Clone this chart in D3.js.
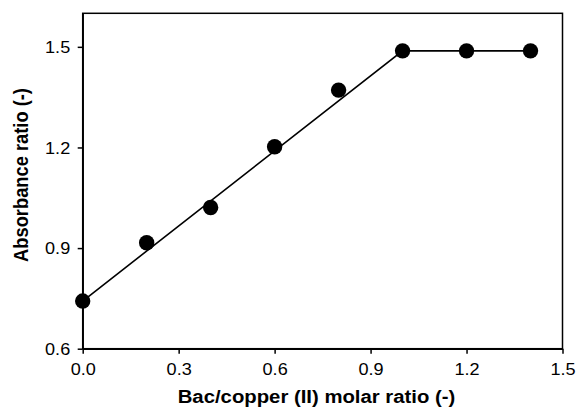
<!DOCTYPE html>
<html><head><meta charset="utf-8">
<script src="https://cdn.jsdelivr.net/npm/d3@7"></script>
<style>body{margin:0;background:#fff}svg{display:block}text{font-family:"Liberation Sans",Arial,sans-serif}</style>
</head><body><div id="chart"></div>
<script>
const xValues = [0.0, 0.2, 0.4, 0.6, 0.8, 1.0, 1.2, 1.4];
const yValues = [0.742, 0.916, 1.021, 1.202, 1.371, 1.488, 1.488, 1.488];
const fitX = [0.0, 1.0, 1.4];
const fitY = [0.742, 1.488, 1.488];
const xTicks = [0.0, 0.3, 0.6, 0.9, 1.2, 1.5];
const yTicks = [0.6, 0.9, 1.2, 1.5];
const xTitle = "Bac/copper (II) molar ratio (-)";
const yTitle = "Absorbance ratio (-)";

const W = 577, H = 409;
const SX = 1.11; // horizontal stretch of glyphs in the reference
const m = {left: 82.7, right: W - 562.5, top: 13.3, bottom: H - 348.7};
const svg = d3.select("#chart").append("svg").attr("width", W).attr("height", H);
const x = d3.scaleLinear().domain([0, 1.5]).range([m.left, W - m.right]);
const y = d3.scaleLinear().domain([0.6, 1.6]).range([H - m.bottom, m.top]);

// frame
svg.append("rect").attr("x", x(0)).attr("y", y(1.6)).attr("width", x(1.5) - x(0)).attr("height", y(0.6) - y(1.6))
  .attr("fill", "none").attr("stroke", "#000").attr("stroke-width", 1.5);

const xAxis = svg.append("g").attr("transform", `translate(0,${y(0.6)})`)
  .call(d3.axisBottom(x).tickValues(xTicks).tickFormat(d3.format(".1f")).tickSize(5).tickSizeOuter(0));
const yAxis = svg.append("g").attr("transform", `translate(${x(0)},0)`)
  .call(d3.axisLeft(y).tickValues(yTicks).tickFormat(d3.format(".1f")).tickSize(5).tickSizeOuter(0));
[xAxis, yAxis].forEach(g => {
  g.select(".domain").attr("stroke-width", 1.5);
  g.selectAll(".tick line").attr("stroke-width", 1.5);
  g.selectAll(".tick text").attr("font-size", 16.3).attr("fill", "#000").attr("font-family", '"Liberation Sans",Arial,sans-serif');
});
xAxis.selectAll(".tick text").attr("y", 26).attr("dy", null).attr("transform", `scale(${SX},1)`);
yAxis.selectAll(".tick text").attr("x", -12.5 / SX).attr("dy", "0.36em").attr("transform", `scale(${SX},1)`);

// fit line
const line = d3.line().x(d => x(d[0])).y(d => y(d[1]));
svg.append("path").datum(fitX.map((v, i) => [v, fitY[i]])).attr("d", line)
  .attr("fill", "none").attr("stroke", "#000").attr("stroke-width", 1.6);

// points
svg.selectAll("circle.pt").data(xValues.map((v, i) => [v, yValues[i]])).enter().append("circle")
  .attr("class", "pt").attr("cx", d => x(d[0])).attr("cy", d => y(d[1])).attr("r", 7.7).attr("fill", "#000");

svg.append("text").attr("transform", `translate(316.5,403) scale(${SX},1)`).attr("text-anchor", "middle")
  .attr("font-size", 18.3).attr("font-weight", "bold").text(xTitle);
svg.append("text").attr("transform", `translate(27.5,175) rotate(-90) scale(1,${SX})`).attr("text-anchor", "middle")
  .attr("font-size", 18.3).attr("font-weight", "bold").text(yTitle);
</script></body></html>
